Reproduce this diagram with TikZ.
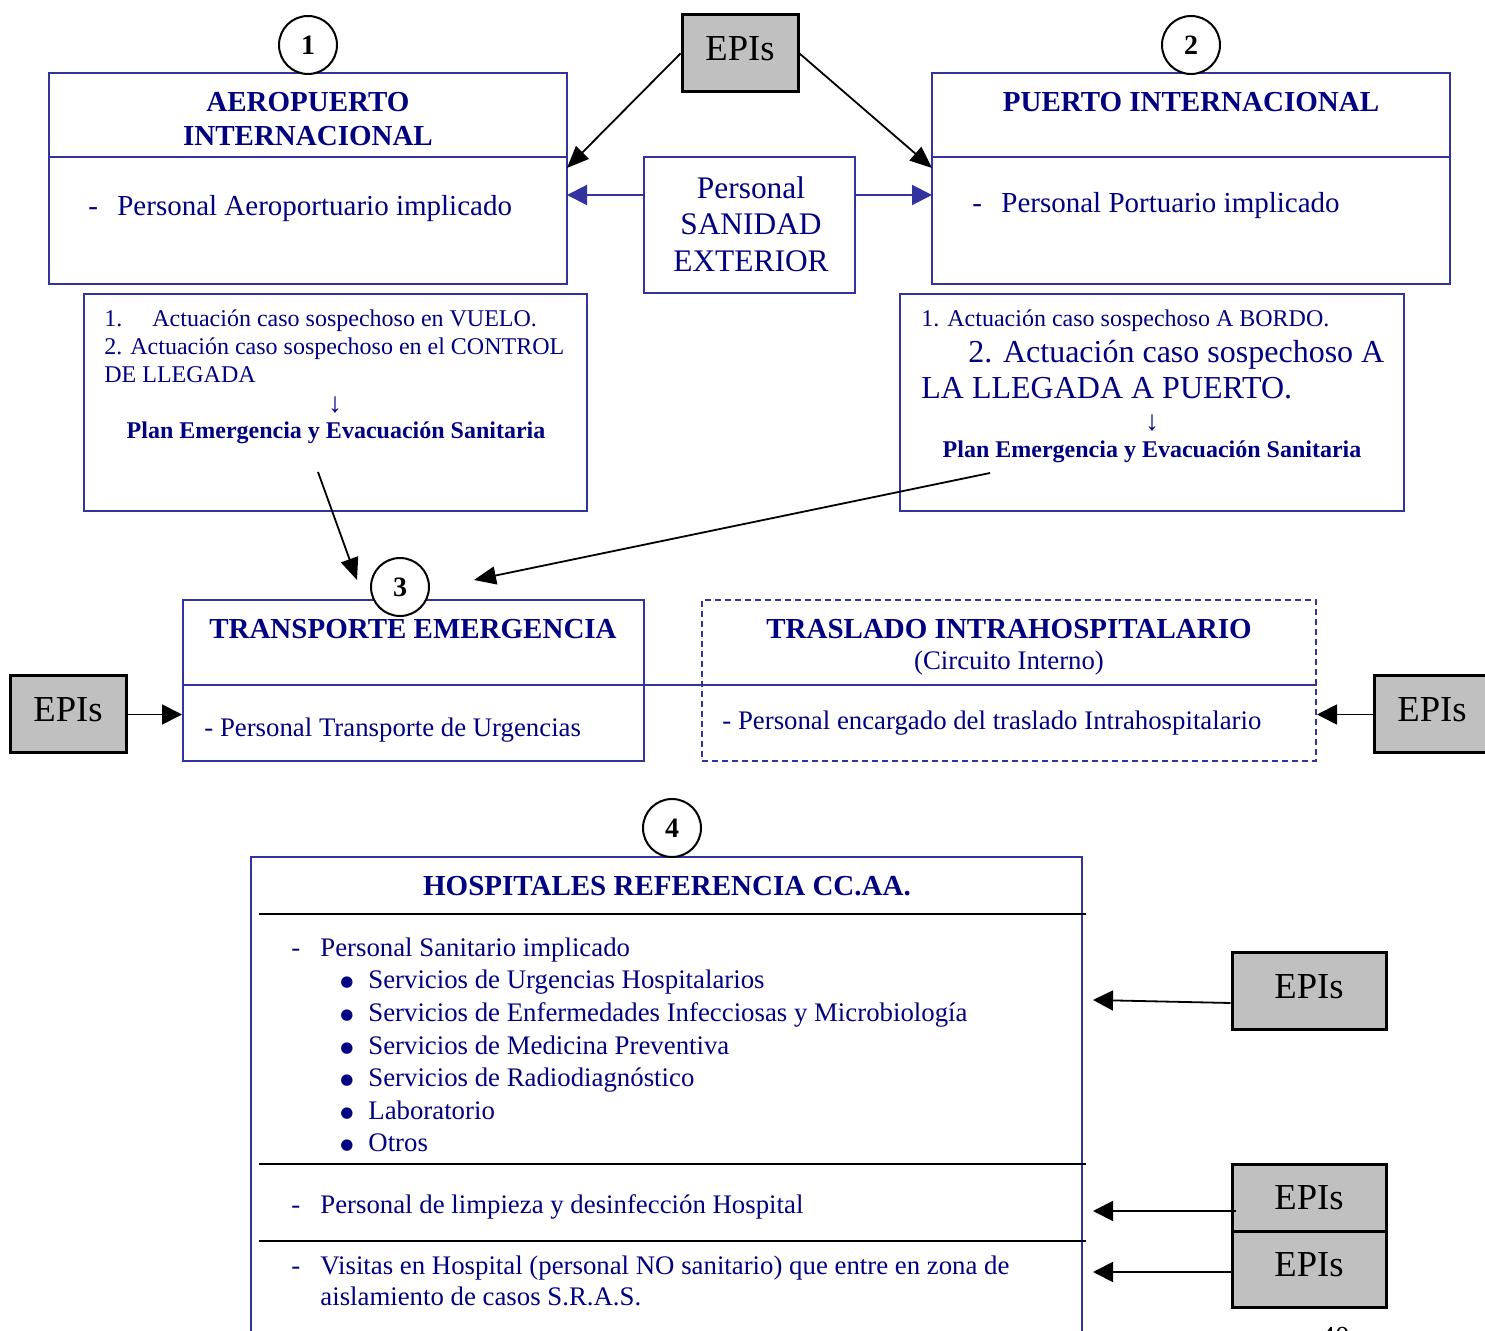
\documentclass[tikz,border=0pt]{standalone}
\usepackage{fontspec}
\setmainfont{Liberation Serif}
\newfontfamily\dvsans{DejaVu Sans}
\usetikzlibrary{arrows.meta,calc}
\definecolor{navy}{RGB}{0,0,128}
\definecolor{boxblue}{RGB}{51,51,160}
\definecolor{epigray}{RGB}{192,192,192}
\newcommand{\bul}{\makebox[14pt][l]{\raisebox{0.2ex}{\dvsans\fontsize{7.5}{9}\selectfont ●}}}
\begin{document}
\begin{tikzpicture}[x=0.5pt,y=-0.5pt,
 box/.style={draw=boxblue, line width=1pt, inner sep=0, rectangle},
 epi/.style={draw=black, line width=1.5pt, fill=epigray, inner sep=0, text depth=4.5pt, font=\fontsize{18.3}{20}\selectfont},
 num/.style={circle, draw=black, line width=1pt, fill=white, minimum size=29pt, inner sep=0, font=\fontsize{14}{16}\selectfont\bfseries},
 txt/.style={text=navy, inner sep=0, font=\fontsize{14.5}{17}\selectfont},
 mtx/.style={text=navy, inner sep=0, font=\fontsize{13.4}{16}\selectfont},
 ttl/.style={text=navy, inner sep=0, font=\fontsize{14.5}{17}\selectfont\bfseries, align=center},
 sm/.style={text=navy, inner sep=0, font=\fontsize{12}{14}\selectfont},
 smb/.style={text=navy, inner sep=0, font=\fontsize{12}{14}\selectfont\bfseries},
 big/.style={text=navy, inner sep=0, font=\fontsize{16}{18}\selectfont},
 arr/.style={draw=black, line width=0.9pt, -{Triangle[length=11pt,width=9pt]}},
 sarr/.style={draw=black, line width=0.9pt, -{Triangle[length=10pt,width=10pt]}},
 barr/.style={draw=boxblue, line width=1pt, -{Triangle[length=10pt,width=10pt]}},
 hline/.style={draw=black, line width=1pt},
 bline/.style={draw=boxblue, line width=1pt},
]
\useasboundingbox (0,0) rectangle (1485,1331);
\clip (0,0) rectangle (1485,1331);

% ---------- boxes ----------
\node[box, minimum width=259pt, minimum height=105.5pt] (aero) at (308,178.5) {};
\node[box, minimum width=259pt, minimum height=105.5pt] (puerto) at (1191,178.5) {};
\node[box, minimum width=105.5pt, minimum height=68pt] (sanidad) at (749.5,225) {};
\node[box, minimum width=251.5pt, minimum height=108.5pt] (plan1) at (335.5,402.5) {};
\node[box, minimum width=252pt, minimum height=108.5pt] (plan2) at (1152,402.5) {};
\node[box, minimum width=230.5pt, minimum height=80.5pt] (transp) at (413.5,680.5) {};
\node[box, dashed, dash pattern=on 3pt off 2pt, minimum width=307pt, minimum height=80.5pt] (intra) at (1009,680.5) {};
\node[box, line width=0.8pt, minimum width=415.5pt, minimum height=244pt] (hosp) at (666.5,1101) {};

% dividers
\draw[bline] (aero.west |- 0,157) -- (aero.east |- 0,157);
\draw[bline] (puerto.west |- 0,157) -- (puerto.east |- 0,157);
\draw[bline] (transp.west |- 0,685) -- (intra.east |- 0,685);
\draw[hline] (259,914) -- (1086,914);
\draw[hline] (259,1164) -- (1086,1164);
\draw[hline] (259,1241) -- (1086,1241);

% ---------- EPIs boxes ----------
\node[epi, minimum width=58pt, minimum height=38.5pt] (epiT) at (740,53.5) {EPIs};
\node[epi, minimum width=58pt, minimum height=38.5pt] (epiL) at (68,714.5) {EPIs};
\node[epi, minimum width=58pt, minimum height=38.5pt] (epiR) at (1432,714.5) {EPIs};
\node[epi, minimum width=77pt, minimum height=38.5pt] (epiB1) at (1309,991.5) {EPIs};
\node[epi, text depth=0pt, minimum width=77pt, minimum height=33.5pt] (epiB2) at (1309,1197.5) {EPIs};
\node[epi, minimum width=77pt, minimum height=38pt] (epiB3) at (1309,1269) {EPIs};

% ---------- number circles ----------
\node[num] (c1) at (308,45) {1};
\node[num] (c2) at (1191,45) {2};
\node[num] (c3) at (400,587) {3};
\node[num] (c4) at (672,828) {4};

% ---------- texts ----------
\node[ttl] (aeroT) at (308,119) {AEROPUERTO\\INTERNACIONAL};
\node[txt, anchor=mid west] (aeroP) at (88,211) {\makebox[14.5pt][l]{-}Personal Aeroportuario implicado};
\node[ttl] (puertoT) at (1191,102) {PUERTO INTERNACIONAL};
\node[txt, anchor=mid west] (puertoP) at (972,208) {\makebox[14.5pt][l]{-}Personal Portuario implicado};
\node[text=navy, inner sep=0, align=center, font=\fontsize{15.7}{18.25}\selectfont] (sanT) at (751,224) {Personal\\SANIDAD\\EXTERIOR};

\node[sm, anchor=mid west] (p1a) at (104,322) {1.\hspace{15pt}Actuación caso sospechoso en VUELO.};
\node[sm, anchor=mid west] (p1b) at (104,350) {2. Actuación caso sospechoso en el CONTROL};
\node[sm, anchor=mid west] (p1c) at (104,378) {DE LLEGADA};
\node[text=navy, inner sep=0, font=\fontsize{14}{16}\selectfont] (p1d) at (335,405) {↓};
\node[smb] (p1e) at (336,433) {Plan Emergencia y Evacuación Sanitaria};

\node[sm, anchor=mid west] (p2a) at (921,322) {1. Actuación caso sospechoso A BORDO.};
\node[big, anchor=mid west] (p2b) at (968,358) {2. Actuación caso sospechoso A};
\node[big, anchor=mid west] (p2c) at (921,394) {LA LLEGADA A PUERTO.};
\node[text=navy, inner sep=0, font=\fontsize{14}{16}\selectfont] (p2d) at (1152,423) {↓};
\node[smb] (p2e) at (1152,452) {Plan Emergencia y Evacuación Sanitaria};

\node[ttl] (trT) at (413,629) {TRANSPORTE EMERGENCIA};
\node[mtx, anchor=mid west] (trP) at (204,732) {- Personal Transporte de Urgencias};
\node[ttl] (inT) at (1009,629) {TRASLADO INTRAHOSPITALARIO};
\node[mtx] (inC) at (1009,663) {(Circuito Interno)};
\node[mtx, anchor=mid west] (inP) at (722,725) {- Personal encargado del traslado Intrahospitalario};

\node[ttl] (hoT) at (667,886) {HOSPITALES REFERENCIA CC.AA.};
\node[mtx, anchor=mid west] (h0) at (291,952) {\makebox[14.5pt][l]{-}Personal Sanitario implicado};
\node[mtx, anchor=mid west] (h1) at (340,984) {\bul Servicios de Urgencias Hospitalarios};
\node[mtx, anchor=mid west] (h2) at (340,1017) {\bul Servicios de Enfermedades Infecciosas y Microbiología};
\node[mtx, anchor=mid west] (h3) at (340,1050) {\bul Servicios de Medicina Preventiva};
\node[mtx, anchor=mid west] (h4) at (340,1082) {\bul Servicios de Radiodiagnóstico};
\node[mtx, anchor=mid west] (h5) at (340,1115) {\bul Laboratorio};
\node[mtx, anchor=mid west] (h6) at (340,1147) {\bul Otros};
\node[mtx, anchor=mid west] (h7) at (291,1209) {\makebox[14.5pt][l]{-}Personal de limpieza y desinfección Hospital};
\node[mtx, anchor=mid west] (h8) at (291,1270) {\makebox[14.5pt][l]{-}Visitas en Hospital (personal NO sanitario) que entre en zona de};
\node[mtx, anchor=mid west] (h9) at (320,1301) {aislamiento de casos S.R.A.S.};

\node[inner sep=0, anchor=base, font=\fontsize{14.5}{17}\selectfont] (pg) at (1335,1346) {40};

% ---------- connector end points ----------
\coordinate (aIn) at (567,168);
\coordinate (pIn) at (932,168);
\coordinate (aSide) at (567,195);
\coordinate (pSide) at (932,195);
\coordinate (p1s) at (318,472);
\coordinate (p1t) at (357,580);
\coordinate (p2s) at (990,473);
\coordinate (p2t) at (474,580);
\coordinate (hA) at (1093,1000);
\coordinate (hB) at (1093,1211);
\coordinate (hC) at (1093,1272);

% ---------- connectors ----------
\draw[arr] (epiT.west) -- (aIn);
\draw[arr] (epiT.east) -- (pIn);
\draw[barr] (sanidad.west |- aSide) -- (aSide);
\draw[barr] (sanidad.east |- pSide) -- (pSide);
\draw[arr] (p1s) -- (p1t);
\draw[arr] (p2s) -- (p2t);
\draw[sarr] (epiL.east) -- (transp.west |- epiL.east);
\draw[sarr] (epiR.west) -- (intra.east |- epiR.west);
\draw[sarr] ($(epiB1.west)+(0,11.5)$) -- (hA);
\draw[sarr] ($(epiB2.west)+(5,13.5)$) -- (hB);
\draw[sarr] ($(epiB3.west)+(0,3)$) -- (hC);
\end{tikzpicture}
\end{document}
